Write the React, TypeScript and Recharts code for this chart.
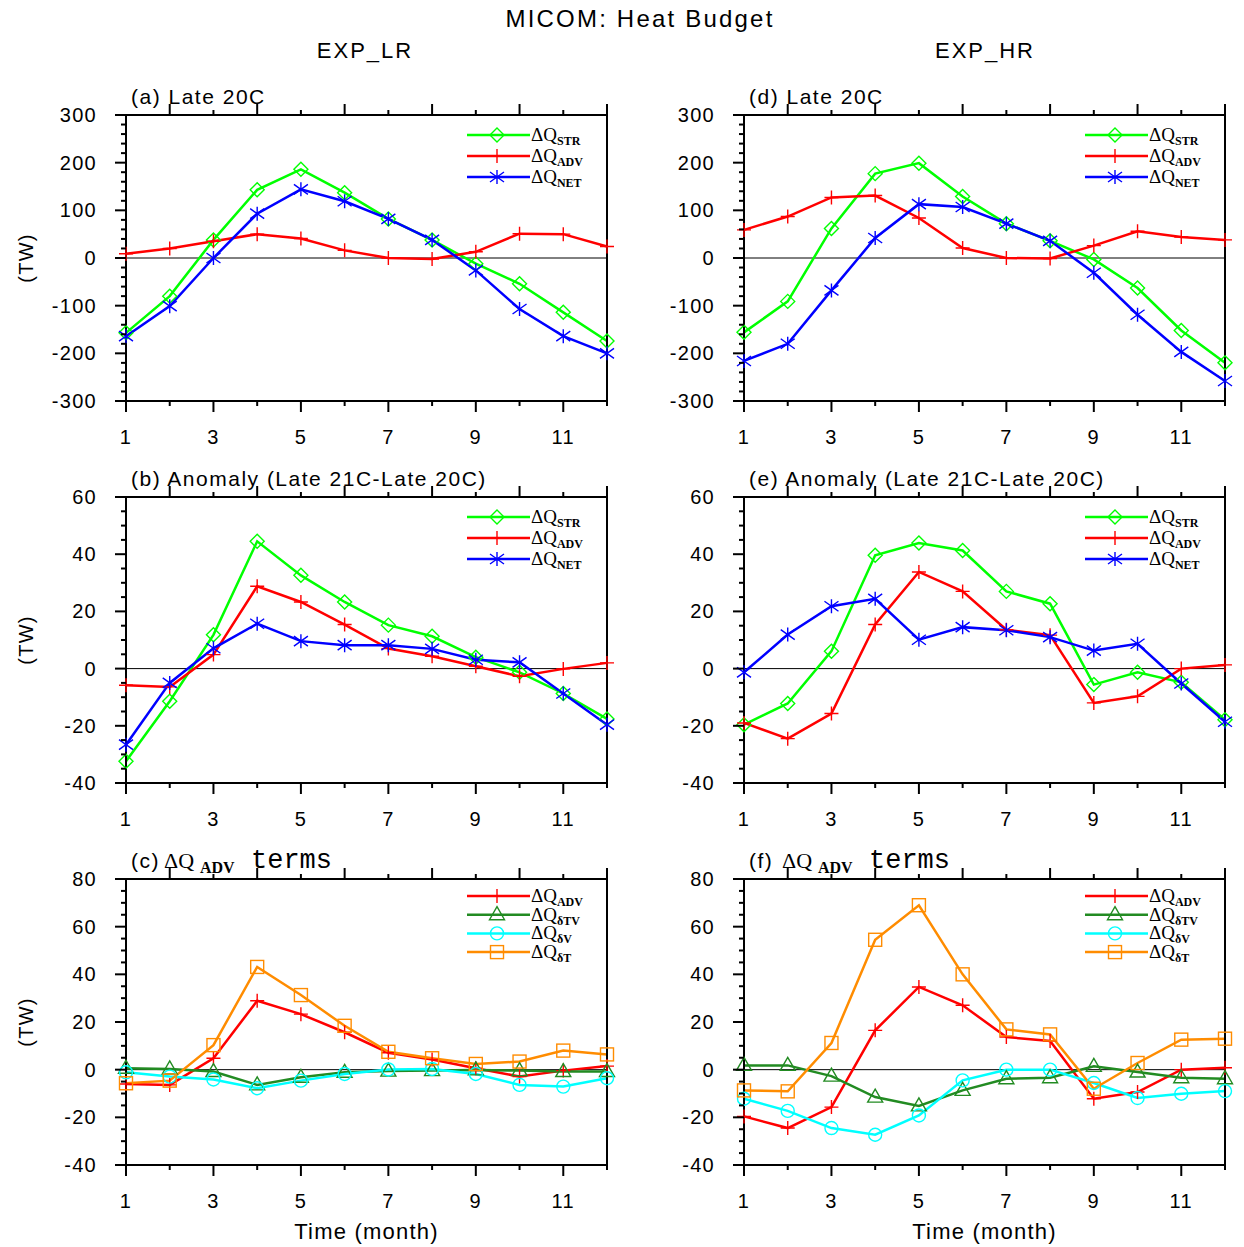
import { LineChart, Line, XAxis, YAxis, ReferenceLine } from 'recharts'

const months = [1, 2, 3, 4, 5, 6, 7, 8, 9, 10, 11, 12]

// (a) EXP_LR, late 20C
const lrLateStr = [-157, -80, 38, 143, 186, 137, 82, 38, -12, -54, -114, -174]
const lrLateAdv = [9, 20, 35, 50, 41, 16, 0, -2, 13, 51, 50, 24]
const lrLateNet = [-164, -101, 0, 93, 144, 119, 82, 38, -26, -107, -164, -200]
// (d) EXP_HR, late 20C
const hrLateStr = [-156, -91, 62, 177, 199, 129, 72, 36, -3, -63, -152, -220]
const hrLateAdv = [59, 87, 127, 131, 84, 21, 0, -1, 26, 56, 44, 38]
const hrLateNet = [-216, -180, -68, 42, 113, 107, 72, 36, -31, -119, -197, -258]
// (b) EXP_LR anomaly
const lrAnomStr = [-32.4, -11.4, 11.8, 44.5, 32.6, 23.3, 15.2, 11.3, 4.0, -1.3, -8.7, -17.6]
const lrAnomAdv = [-5.8, -6.4, 4.9, 28.8, 23.3, 15.4, 7.0, 4.3, 0.8, -2.7, -0.1, 2.0]
const lrAnomNet = [-26.6, -5.0, 7.1, 15.7, 9.6, 8.2, 8.2, 6.9, 3.1, 2.2, -8.7, -19.6]
// (e) EXP_HR anomaly
const hrAnomStr = [-19.6, -12.2, 6.1, 39.6, 43.9, 41.3, 27.0, 22.7, -5.6, -1.3, -4.8, -17.9]
const hrAnomAdv = [-19.0, -24.5, -15.7, 15.4, 33.8, 27.0, 13.6, 11.7, -12.0, -9.7, 0, 1.3]
const hrAnomNet = [-1.3, 11.9, 21.8, 24.4, 10.1, 14.5, 13.4, 11.0, 6.3, 8.7, -5.2, -18.6]
// (c) EXP_LR advection terms
const lrTermAdv = [-6.0, -6.4, 4.8, 28.9, 23.3, 15.7, 7.1, 4.3, 0.6, -2.9, -0.4, 1.5]
const lrTermTv = [0.6, 0.3, -0.8, -6.4, -3.2, -1.1, -0.6, -0.4, -0.1, -0.4, -0.8, -0.8]
const lrTermV = [-1.1, -2.9, -4.1, -7.8, -4.6, -1.8, 0.1, 0.3, -1.8, -6.4, -7.1, -3.6]
const lrTermT = [-5.7, -4.6, 10.3, 43.1, 31.3, 18.4, 7.5, 4.8, 2.4, 3.4, 8.0, 6.4]
// (f) EXP_HR advection terms
const hrTermAdv = [-19.6, -24.5, -15.7, 16.5, 34.7, 27.0, 13.7, 12.0, -12.2, -9.4, 0, 0.8]
const hrTermTv = [1.8, 1.8, -2.7, -11.5, -15.2, -8.7, -3.8, -3.4, 1.4, -1.0, -3.4, -3.8]
const hrTermV = [-12.2, -17.3, -24.5, -27.3, -19.2, -4.5, 0, 0, -5.6, -11.9, -10.1, -9.0]
const hrTermT = [-8.7, -9.1, 11.2, 54.5, 69.0, 40.0, 16.9, 14.8, -8.0, 2.8, 12.6, 13.0]

const SANS = 'Liberation Sans, Arial, sans-serif'
const SERIF = 'Liberation Serif, Times New Roman, serif'
const MONO = 'Liberation Mono, Courier New, monospace'

const PW = 481
const PH = 286
const COLS = [126, 744]
const ROWS = [115, 497, 879]
const LW = 90
const TH = 14
const RW = 14
const BH = 52
const MAJOR = 11
const MINOR = 5

type Shape = 'diamond' | 'plus' | 'star' | 'triangle' | 'circle' | 'square'

interface Series {
  key: string
  sub: string
  color: string
  shape: Shape
  values: number[]
}

function Marker({ shape, cx, cy, color }: { shape: Shape; cx: number; cy: number; color: string }) {
  const sw = 1.4
  switch (shape) {
    case 'diamond':
      return (
        <polygon
          points={`${cx},${cy - 7} ${cx + 7},${cy} ${cx},${cy + 7} ${cx - 7},${cy}`}
          fill="none"
          stroke={color}
          strokeWidth={sw}
        />
      )
    case 'plus':
      return <path d={`M${cx - 7},${cy}H${cx + 7}M${cx},${cy - 7}V${cy + 7}`} stroke={color} strokeWidth={sw} />
    case 'star':
      return (
        <path
          d={`M${cx},${cy - 7}V${cy + 7}M${cx - 7},${cy - 5}L${cx + 7},${cy + 5}M${cx - 7},${cy + 5}L${cx + 7},${cy - 5}`}
          stroke={color}
          strokeWidth={sw}
        />
      )
    case 'triangle':
      return (
        <polygon
          points={`${cx},${cy - 8} ${cx + 7.5},${cy + 5} ${cx - 7.5},${cy + 5}`}
          fill="none"
          stroke={color}
          strokeWidth={sw}
        />
      )
    case 'circle':
      return <circle cx={cx} cy={cy} r={6.5} fill="none" stroke={color} strokeWidth={sw} />
    default:
      return <rect x={cx - 6.5} y={cy - 6.5} width={13} height={13} fill="none" stroke={color} strokeWidth={sw} />
  }
}

const makeDot = (shape: Shape, color: string) => (p: any) => (
  <Marker key={`d-${p.index}`} shape={shape} cx={p.cx} cy={p.cy} color={color} />
)

const tickText = { fontFamily: SANS, fontSize: 20, letterSpacing: 1.3, fill: '#000' }

const BottomTick = (p: any) => {
  const v = p.payload.value
  const major = v % 2 === 1
  return (
    <g>
      <line x1={p.x} x2={p.x} y1={p.y} y2={p.y + (major ? MAJOR : MINOR)} stroke="#000" strokeWidth={2} />
      {major && (
        <text x={p.x} y={p.y + 43} textAnchor="middle" style={tickText}>
          {v}
        </text>
      )}
    </g>
  )
}

const TopTick = (p: any) => {
  const major = p.payload.value % 2 === 1
  return <line x1={p.x} x2={p.x} y1={p.y} y2={p.y - (major ? MAJOR : MINOR)} stroke="#000" strokeWidth={2} />
}

const leftTick = (major: number) => (p: any) => {
  const v = p.payload.value
  const isMajor = Math.abs(v % major) < 1e-6
  return (
    <g>
      <line x1={p.x} x2={p.x - (isMajor ? MAJOR : MINOR)} y1={p.y} y2={p.y} stroke="#000" strokeWidth={2} />
      {isMajor && (
        <text x={p.x - 29} y={p.y + 7} textAnchor="end" style={tickText}>
          {v}
        </text>
      )}
    </g>
  )
}

const rightTick = (major: number) => (p: any) => {
  const isMajor = Math.abs(p.payload.value % major) < 1e-6
  return <line x1={p.x} x2={p.x + (isMajor ? MAJOR : MINOR)} y1={p.y} y2={p.y} stroke="#000" strokeWidth={2} />
}

function Panel({
  col,
  row,
  series,
  domain,
  major,
  minor,
}: {
  col: number
  row: number
  series: Series[]
  domain: [number, number]
  major: number
  minor: number
}) {
  const data = months.map((m, i) => {
    const d: Record<string, number> = { m }
    series.forEach((s) => {
      d[s.key] = s.values[i]
    })
    return d
  })
  const yTicks: number[] = []
  for (let v = domain[0]; v <= domain[1] + 1e-6; v += minor) yTicks.push(Math.round(v * 100) / 100)
  const axisLine = { stroke: '#000', strokeWidth: 2 }

  return (
    <div style={{ position: 'absolute', left: COLS[col] - LW, top: ROWS[row] - TH }}>
      <LineChart width={LW + PW + RW} height={TH + PH + BH} data={data} margin={{ top: 0, right: 0, bottom: 0, left: 0 }}>
        <XAxis
          xAxisId="bottom"
          dataKey="m"
          type="number"
          domain={[1, 12]}
          ticks={months}
          interval={0}
          height={BH}
          tickSize={0}
          tickMargin={0}
          tickLine={false}
          axisLine={axisLine}
          tick={BottomTick}
        />
        <XAxis
          xAxisId="top"
          orientation="top"
          type="number"
          domain={[1, 12]}
          ticks={months}
          interval={0}
          height={TH}
          tickSize={0}
          tickMargin={0}
          tickLine={false}
          axisLine={axisLine}
          tick={TopTick}
        />
        <YAxis
          yAxisId="left"
          type="number"
          domain={domain}
          ticks={yTicks}
          interval={0}
          width={LW}
          tickSize={0}
          tickMargin={0}
          tickLine={false}
          axisLine={axisLine}
          tick={leftTick(major)}
        />
        <YAxis
          yAxisId="right"
          orientation="right"
          type="number"
          domain={domain}
          ticks={yTicks}
          interval={0}
          width={RW}
          tickSize={0}
          tickMargin={0}
          tickLine={false}
          axisLine={axisLine}
          tick={rightTick(major)}
        />
        <ReferenceLine xAxisId="bottom" yAxisId="left" y={0} stroke="#000" strokeWidth={1} />
        {series.map((s) => (
          <Line
            key={s.key}
            xAxisId="bottom"
            yAxisId="left"
            type="linear"
            dataKey={s.key}
            stroke={s.color}
            strokeWidth={2.5}
            dot={makeDot(s.shape, s.color)}
            activeDot={false}
            isAnimationActive={false}
          />
        ))}
      </LineChart>
    </div>
  )
}

const budget = (str: number[], adv: number[], net: number[]): Series[] => [
  { key: 'str', sub: 'STR', color: '#00ff00', shape: 'diamond', values: str },
  { key: 'adv', sub: 'ADV', color: '#ff0000', shape: 'plus', values: adv },
  { key: 'net', sub: 'NET', color: '#0000ff', shape: 'star', values: net },
]

const terms = (adv: number[], tv: number[], v: number[], t: number[]): Series[] => [
  { key: 'adv', sub: 'ADV', color: '#ff0000', shape: 'plus', values: adv },
  { key: 'tv', sub: 'δTV', color: '#228b22', shape: 'triangle', values: tv },
  { key: 'v', sub: 'δV', color: '#00ffff', shape: 'circle', values: v },
  { key: 't', sub: 'δT', color: '#ff8c00', shape: 'square', values: t },
]

const panels = [
  { col: 0, row: 0, title: '(a) Late 20C', series: budget(lrLateStr, lrLateAdv, lrLateNet), domain: [-300, 300] as [number, number], major: 100, minor: 20 },
  { col: 1, row: 0, title: '(d) Late 20C', series: budget(hrLateStr, hrLateAdv, hrLateNet), domain: [-300, 300] as [number, number], major: 100, minor: 20 },
  { col: 0, row: 1, title: '(b) Anomaly (Late 21C-Late 20C)', series: budget(lrAnomStr, lrAnomAdv, lrAnomNet), domain: [-40, 60] as [number, number], major: 20, minor: 5 },
  { col: 1, row: 1, title: '(e) Anomaly (Late 21C-Late 20C)', series: budget(hrAnomStr, hrAnomAdv, hrAnomNet), domain: [-40, 60] as [number, number], major: 20, minor: 5 },
  { col: 0, row: 2, title: '(c)', series: terms(lrTermAdv, lrTermTv, lrTermV, lrTermT), domain: [-40, 80] as [number, number], major: 20, minor: 5 },
  { col: 1, row: 2, title: '(f)', series: terms(hrTermAdv, hrTermTv, hrTermV, hrTermT), domain: [-40, 80] as [number, number], major: 20, minor: 5 },
]

function LegendBox({ col, row, series }: { col: number; row: number; series: Series[] }) {
  const px = COLS[col]
  const py = ROWS[row]
  const four = series.length === 4
  return (
    <g>
      {series.map((s, i) => {
        const y = py + (four ? 17 + i * 18.7 : 20 + i * 21)
        return (
          <g key={s.key}>
            <line x1={px + 341} x2={px + 404} y1={y} y2={y} stroke={s.color} strokeWidth={2.5} />
            <Marker shape={s.shape} cx={px + 371} cy={y} color={s.color} />
            <text x={px + 405} y={y + 6} fontFamily={SERIF} fontSize={19} fill="#000">
              ΔQ
              <tspan fontSize={12} fontWeight="bold" dy={4}>
                {s.sub}
              </tspan>
            </text>
          </g>
        )
      })}
    </g>
  )
}

export default function App() {
  const titleStyle = { fontFamily: SANS, fontSize: 21, letterSpacing: 1.5, fill: '#000' }
  return (
    <div style={{ position: 'absolute', left: 0, top: 0, width: 1244, height: 1247, background: '#fff' }}>
      {panels.map((p) => (
        <Panel key={p.title} col={p.col} row={p.row} series={p.series} domain={p.domain} major={p.major} minor={p.minor} />
      ))}
      <svg width={1244} height={1247} style={{ position: 'absolute', left: 0, top: 0, pointerEvents: 'none' }}>
        <text x={640} y={27} textAnchor="middle" style={{ fontFamily: SANS, fontSize: 24, letterSpacing: 2.2 }}>
          MICOM: Heat Budget
        </text>
        <text x={365} y={58} textAnchor="middle" style={{ fontFamily: SANS, fontSize: 22, letterSpacing: 2 }}>
          EXP_LR
        </text>
        <text x={985} y={58} textAnchor="middle" style={{ fontFamily: SANS, fontSize: 22, letterSpacing: 2 }}>
          EXP_HR
        </text>
        {ROWS.map((ry) => (
          <text
            key={ry}
            transform={`translate(33, ${ry + PH / 2}) rotate(-90)`}
            textAnchor="middle"
            style={{ fontFamily: SANS, fontSize: 20, letterSpacing: 1.3 }}
          >
            (TW)
          </text>
        ))}
        {COLS.map((cx) => (
          <text
            key={cx}
            x={cx + PW / 2}
            y={1239}
            textAnchor="middle"
            style={{ fontFamily: SANS, fontSize: 22, letterSpacing: 1.2 }}
          >
            Time (month)
          </text>
        ))}
        {panels.map((p) =>
          p.row < 2 ? (
            <text key={p.title} x={COLS[p.col] + 5} y={ROWS[p.row] - 11} style={titleStyle}>
              {p.title}
            </text>
          ) : (
            <text key={p.title} x={COLS[p.col] + 5} y={ROWS[p.row] - 11} style={titleStyle}>
              {p.title}
              <tspan x={COLS[p.col] + 38} fontFamily={SERIF} fontSize={22} letterSpacing={0}>
                ΔQ
              </tspan>
              <tspan x={COLS[p.col] + 74} dy={5} fontFamily={SERIF} fontSize={16} fontWeight="bold" letterSpacing={0}>
                ADV
              </tspan>
              <tspan x={COLS[p.col] + 125} dy={-5} fontFamily={MONO} fontSize={27} letterSpacing={0}>
                terms
              </tspan>
            </text>
          )
        )}
        {panels.map((p) => (
          <LegendBox key={`lg-${p.title}`} col={p.col} row={p.row} series={p.series} />
        ))}
      </svg>
    </div>
  )
}
